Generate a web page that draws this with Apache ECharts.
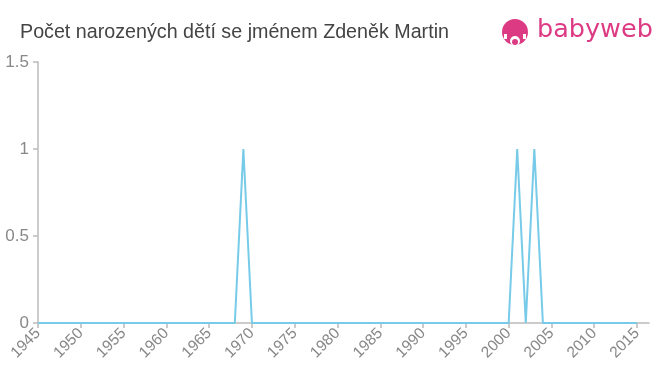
<!DOCTYPE html>
<html>
<head>
<meta charset="utf-8">
<script src="https://cdn.jsdelivr.net/npm/echarts@6/dist/echarts.min.js"></script>
<style>html,body{margin:0;padding:0;background:#fff;}#c{width:660px;height:375px;}</style>
</head>
<body>
<div id="c"></div>
<script>
var titleText = "Počet narozených dětí se jménem Zdeněk Martin";
var years = [1945,1946,1947,1948,1949,1950,1951,1952,1953,1954,1955,1956,1957,1958,1959,1960,1961,1962,1963,1964,1965,1966,1967,1968,1969,1970,1971,1972,1973,1974,1975,1976,1977,1978,1979,1980,1981,1982,1983,1984,1985,1986,1987,1988,1989,1990,1991,1992,1993,1994,1995,1996,1997,1998,1999,2000,2001,2002,2003,2004,2005,2006,2007,2008,2009,2010,2011,2012,2013,2014,2015];
var counts = [0,0,0,0,0,0,0,0,0,0,0,0,0,0,0,0,0,0,0,0,0,0,0,0,1,0,0,0,0,0,0,0,0,0,0,0,0,0,0,0,0,0,0,0,0,0,0,0,0,0,0,0,0,0,0,0,1,0,1,0,0,0,0,0,0,0,0,0,0,0,0];
var xTicks = [1945,1950,1955,1960,1965,1970,1975,1980,1985,1990,1995,2000,2005,2010,2015];
var yTicks = [0,0.5,1,1.5];

var chart = echarts.init(document.getElementById('c'), null, {renderer:'canvas'});
var pts = years.map(function(y,i){return [y, counts[i]];});
var ff = 'Liberation Sans, Arial, sans-serif';
chart.setOption({
  animation:false,
  backgroundColor:'#fff',
  title:{text:titleText,left:15,top:18,textStyle:{fontFamily:ff,fontSize:19.7,fontWeight:'normal',color:'#444'}},
  grid:{left:38,top:62,right:11,bottom:52,containLabel:false},
  xAxis:{type:'value',min:1945,max:2016.4,
    axisLine:{lineStyle:{color:'#bbb',width:1.5}},
    axisTick:{customValues:xTicks,length:5,lineStyle:{color:'#bbb',width:1.5}},
    axisLabel:{customValues:xTicks,rotate:45,fontSize:15.5,color:'#888',margin:8,fontFamily:ff,formatter:function(v){return String(v);}},
    splitLine:{show:false}},
  yAxis:{type:'value',min:0,max:1.5,
    axisLine:{show:true,lineStyle:{color:'#bbb',width:1.5}},
    axisTick:{show:true,customValues:yTicks,length:5,lineStyle:{color:'#bbb',width:1.5}},
    axisLabel:{customValues:yTicks,fontSize:17,color:'#888',margin:9,fontFamily:ff},
    splitLine:{show:false}},
  series:[{type:'line',data:pts,showSymbol:false,symbol:'none',lineStyle:{color:'#77cbe8',width:2},itemStyle:{color:'#77cbe8'},z:3}],
  graphic:[
    {type:'circle',shape:{cx:515,cy:32,r:13},style:{fill:'#dd3a84'}},
    {type:'circle',shape:{cx:515,cy:41,r:5},style:{fill:'#fff'}},
    {type:'circle',shape:{cx:515,cy:42,r:3},style:{fill:'#dd3a84'}},
    {type:'rect',shape:{x:504,y:34,width:3,height:5},style:{fill:'#fff'}},
    {type:'rect',shape:{x:523,y:34,width:3,height:5},style:{fill:'#fff'}},
    {type:'text',left:537,top:17,style:{text:'babyweb',fontFamily:'DejaVu Sans, sans-serif',fontSize:25.5,fill:'#dd3a84'}}
  ]
});
</script>
</body>
</html>
